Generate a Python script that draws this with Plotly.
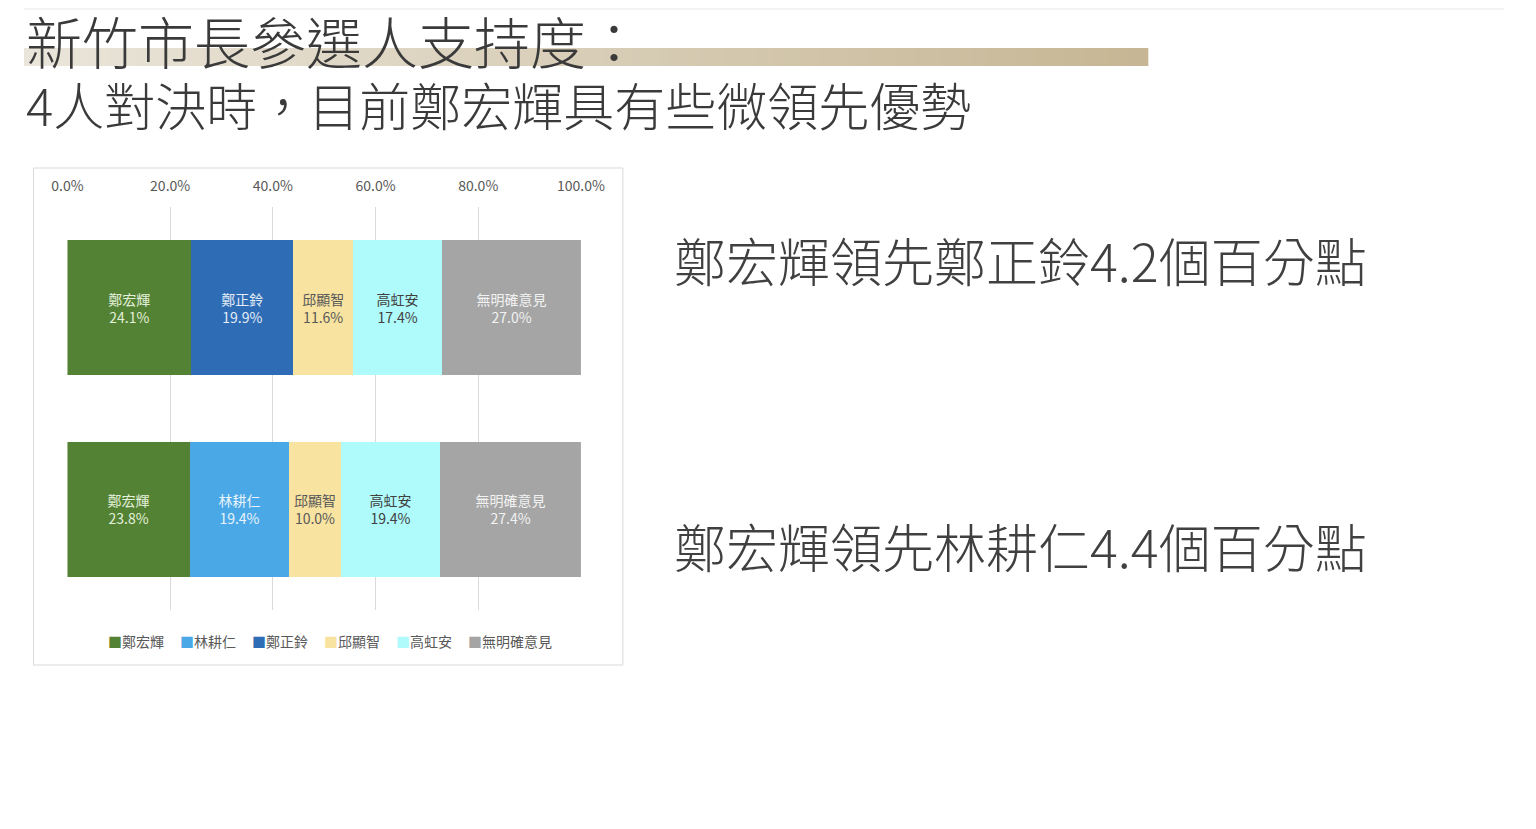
import plotly.graph_objects as go

# two match-ups, top row first
rows = ["鄭宏輝 vs 鄭正鈴", "鄭宏輝 vs 林耕仁"]

names = ["鄭宏輝", "林耕仁", "鄭正鈴", "邱顯智", "高虹安", "無明確意見"]
values = {
    "鄭宏輝": [24.1, 23.8],
    "林耕仁": [None, 19.4],
    "鄭正鈴": [19.9, None],
    "邱顯智": [11.6, 10.0],
    "高虹安": [17.4, 19.4],
    "無明確意見": [27.0, 27.4],
}
colors = ["#548235", "#4BA8E6", "#2E6DB5", "#F8E3A0", "#AFFAFA", "#A5A5A5"]
label_colors = ["#E2EFD9", "#E8F3FB", "#E3ECF7", "#595959", "#404040", "#F2F2F2"]

tick_vals = [0, 20, 40, 60, 80, 100]

title1 = "新竹市長參選人支持度："
title2 = "4人對決時，目前鄭宏輝具有些微領先優勢"
notes = ["鄭宏輝領先鄭正鈴4.2個百分點", "鄭宏輝領先林耕仁4.4個百分點"]

# figure sized so it fits the window together with the page's 8px margin
W, H = 1520, 813
FONT = "Noto Sans CJK TC, Noto Sans, sans-serif"


# layout helpers: target screen pixel -> paper fraction
def px(x):
    return max(0.0, (x - 23.5) / 0.9747 / W)


def py(y):
    return 1 - (y - 8) / H


fig = go.Figure()
for name, col, tcol in zip(names, colors, label_colors):
    vals = values[name]
    fig.add_trace(go.Bar(
        y=rows, x=vals, name=name, orientation="h",
        marker=dict(color=col, line=dict(width=0)),
        text=[f"{name}<br>{v:.1f}%" if v is not None else "" for v in vals],
        textposition="inside", insidetextanchor="middle", textangle=0,
        textfont=dict(family=FONT, size=14, color=tcol),
        hoverinfo="skip", showlegend=False,
    ))

fig.update_layout(
    width=W, height=H,
    margin=dict(l=0, r=0, t=0, b=0),
    barmode="stack", bargap=0.33,
    paper_bgcolor="white", plot_bgcolor="white",
    font=dict(family=FONT, color="#595959"),
    uniformtext=dict(minsize=14, mode="show"),
    showlegend=False,
)
fig.update_xaxes(
    domain=[px(67), px(581)], range=[0, 100], side="top",
    tickvals=tick_vals, ticktext=[f"{v:.1f}%" for v in tick_vals],
    tickfont=dict(size=14, color="#595959"),
    showgrid=True, gridcolor="#D9D9D9", gridwidth=1,
    zeroline=False, showline=False, ticks="", ticklabelstandoff=12,
    fixedrange=True,
)
fig.update_yaxes(
    domain=[py(610), py(207)], autorange="reversed",
    showticklabels=False, showgrid=False, zeroline=False, fixedrange=True,
)

shapes = []
# gradient band behind the first title line
n = 120
c0, c1 = (234, 229, 218), (198, 182, 148)
b0, b1 = px(0), px(1149)
for i in range(n):
    t = i / (n - 1)
    c = tuple(round(a + (b - a) * t) for a, b in zip(c0, c1))
    shapes.append(dict(
        type="rect", xref="paper", yref="paper", layer="below",
        x0=b0 + (b1 - b0) * i / n, x1=b0 + (b1 - b0) * (i + 1.3) / n,
        y0=py(66), y1=py(48),
        fillcolor=f"rgb{c}", line=dict(width=0),
    ))
shapes[-1]["x1"] = b1
# chart frame
shapes.append(dict(
    type="rect", xref="paper", yref="paper", layer="below",
    x0=px(33), x1=px(623), y0=py(665), y1=py(168),
    fillcolor="white", line=dict(color="#D9D9D9", width=1),
))
# faint line along the top
shapes.append(dict(
    type="line", xref="paper", yref="paper", layer="below",
    x0=0, x1=1, y0=py(9), y1=py(9),
    line=dict(color="#E6E6E6", width=1),
))
fig.update_layout(shapes=shapes)

ann = [
    dict(text=title1, x=px(3), y=py(39), xanchor="left", yanchor="middle",
         font=dict(size=56, color="#3A3A3A", family=FONT, weight=300)),
    dict(text=title2, x=px(3), y=py(104), xanchor="left", yanchor="middle",
         font=dict(size=51, color="#3A3A3A", family=FONT, weight=300)),
]
for note, yc in zip(notes, [259, 545]):
    ann.append(dict(text=note, x=px(672), y=py(yc), xanchor="left", yanchor="middle",
                    font=dict(size=52, color="#404040", family=FONT, weight=300)))

# legend row under the chart
for i, (name, col) in enumerate(zip(names, colors)):
    ann.append(dict(
        text=f"<span style='color:{col}'>■</span>{name}",
        x=px(106 + i * 72), y=py(641), xanchor="left", yanchor="middle",
        font=dict(size=14, color="#595959", family=FONT),
    ))

for a in ann:
    a.update(xref="paper", yref="paper", showarrow=False)
fig.update_layout(annotations=ann)

fig.write_html("out.html", config={"displayModeBar": False})
